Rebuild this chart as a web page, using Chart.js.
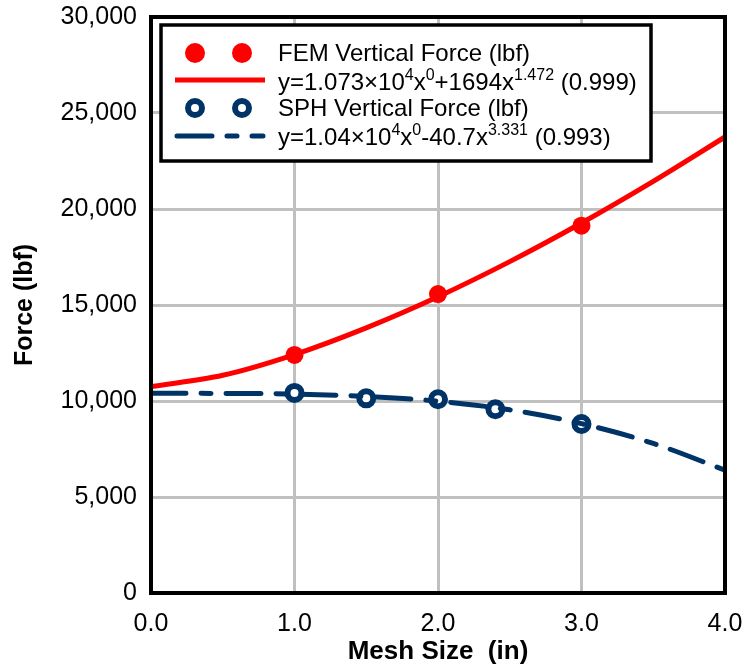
<!DOCTYPE html>
<html>
<head>
<meta charset="utf-8">
<script src="https://cdn.jsdelivr.net/npm/chart.js@4.4.1/dist/chart.umd.min.js"></script>
<style>
  html, body { margin: 0; padding: 0; background: #fff; }
  #wrap { width: 748px; height: 670px; }
</style>
</head>
<body>
<div id="wrap"><canvas id="chart" width="748" height="670"></canvas></div>
<script>
// measured points
const meshFem = [1, 2, 3]
const femForce = [12400, 15570, 19130]
const meshSph = [1, 1.5, 2, 2.4, 3]
const sphForce = [10420, 10140, 10090, 9570, 8800]

// trend lines
const fitMesh = [0, 0.5, 1, 1.5, 2, 2.5, 3, 3.5, 4]
const femFit = [10750, 11340, 12420, 13810, 15430, 17260, 19270, 21440, 23750]
const sphFit = [10400, 10395, 10360, 10240, 9990, 9540, 8820, 7790, 6400]

const xTicks = [0, 1, 2, 3, 4]
const yTicks = [0, 5000, 10000, 15000, 20000, 25000, 30000]

const femLabel = 'FEM Vertical Force (lbf)'
const femFitLabel = [['y=1.073×10', 0], ['4', 1], ['x', 0], ['0', 1], ['+1694x', 0], ['1.472', 1], [' (0.999)', 0]]
const sphLabel = 'SPH Vertical Force (lbf)'
const sphFitLabel = [['y=1.04×10', 0], ['4', 1], ['x', 0], ['0', 1], ['-40.7x', 0], ['3.331', 1], [' (0.993)', 0]]

const RED = '#ff0000'
const NAVY = '#003366'
const FONT = '"Liberation Sans", Arial, sans-serif'
const sphDash = [35, 15, 10, 15]

const toXY = (xs, ys) => xs.map((x, i) => ({ x: x, y: ys[i] }))

// thick black frame round the plot area
const framePlugin = {
    id: 'frame',
    afterDatasetsDraw(chart) {
        const { ctx, chartArea: a } = chart
        ctx.save()
        ctx.strokeStyle = '#000'
        ctx.lineWidth = 4
        ctx.strokeRect(a.left, a.top, a.right - a.left, a.bottom - a.top)
        ctx.restore()
    }
}

const drawParts = (ctx, parts, x, y) => {
    parts.forEach(([txt, sup]) => {
        ctx.font = sup ? `16px ${FONT}` : `24px ${FONT}`
        ctx.fillText(txt, x, sup ? y - 10 : y)
        x += ctx.measureText(txt).width
    })
}

// legend box sits inside the plot, Excel style
const legendPlugin = {
    id: 'boxLegend',
    afterDraw(chart) {
        const ctx = chart.ctx
        ctx.save()
        ctx.fillStyle = '#fff'
        ctx.fillRect(161, 25, 490, 136)
        ctx.strokeStyle = '#000'
        ctx.lineWidth = 3.5
        ctx.strokeRect(161, 25, 490, 136)

        // FEM markers
        ctx.fillStyle = RED
        ;[195, 242].forEach(cx => {
            ctx.beginPath()
            ctx.arc(cx, 53, 10, 0, Math.PI * 2)
            ctx.fill()
        })
        // FEM fit line
        ctx.strokeStyle = RED
        ctx.lineWidth = 5
        ctx.beginPath()
        ctx.moveTo(175, 80)
        ctx.lineTo(265, 80)
        ctx.stroke()
        // SPH markers
        ctx.strokeStyle = NAVY
        ctx.lineWidth = 6
        ctx.fillStyle = '#fff'
        ;[195, 242].forEach(cx => {
            ctx.beginPath()
            ctx.arc(cx, 108, 7, 0, Math.PI * 2)
            ctx.fill()
            ctx.stroke()
        })
        // SPH fit line
        ctx.lineWidth = 5
        ctx.lineCap = 'round'
        ctx.setLineDash(sphDash)
        ctx.beginPath()
        ctx.moveTo(177, 136)
        ctx.lineTo(263, 136)
        ctx.stroke()
        ctx.setLineDash([])

        ctx.fillStyle = '#000'
        ctx.textBaseline = 'alphabetic'
        ctx.textAlign = 'left'
        ctx.font = `24px ${FONT}`
        ctx.fillText(femLabel, 278, 61)
        drawParts(ctx, femFitLabel, 278, 90)
        ctx.font = `24px ${FONT}`
        ctx.fillText(sphLabel, 278, 116)
        drawParts(ctx, sphFitLabel, 278, 145)
        ctx.restore()
    }
}

new Chart(document.getElementById('chart'), {
    type: 'scatter',
    data: {
        datasets: [
            {
                label: femLabel,
                data: toXY(meshFem, femForce),
                pointRadius: 9,
                pointBackgroundColor: RED,
                pointBorderWidth: 0,
                showLine: false,
                order: 2
            },
            {
                label: 'FEM fit',
                data: toXY(fitMesh, femFit),
                showLine: true,
                pointRadius: 0,
                borderColor: RED,
                borderWidth: 5,
                cubicInterpolationMode: 'monotone',
                order: 1
            },
            {
                label: sphLabel,
                data: toXY(meshSph, sphForce),
                pointRadius: 7,
                pointBorderWidth: 6,
                pointBorderColor: NAVY,
                pointBackgroundColor: '#fff',
                showLine: false,
                order: 2
            },
            {
                label: 'SPH fit',
                data: toXY(fitMesh, sphFit),
                showLine: true,
                pointRadius: 0,
                borderColor: NAVY,
                borderWidth: 5,
                borderDash: sphDash,
                borderCapStyle: 'round',
                cubicInterpolationMode: 'monotone',
                order: 1
            }
        ]
    },
    options: {
        responsive: false,
        animation: false,
        devicePixelRatio: 1,
        layout: { padding: { top: 17, right: 23, left: 0, bottom: 0 } },
        plugins: {
            legend: { display: false },
            tooltip: { enabled: false }
        },
        scales: {
            x: {
                type: 'linear',
                min: 0,
                max: 4,
                afterBuildTicks: s => { s.ticks = xTicks.map(v => ({ value: v })) },
                afterFit: s => {
                    s.height = 77
                    s.paddingLeft = 0
                    s.paddingRight = 0
                },
                grid: { color: '#c0c0c0', lineWidth: 3, drawTicks: false },
                border: { display: false },
                ticks: {
                    padding: 16,
                    color: '#000',
                    font: { family: FONT, size: 25 },
                    maxRotation: 0,
                    callback: v => v.toFixed(1)
                },
                title: {
                    display: true,
                    text: 'Mesh Size  (in)',
                    color: '#000',
                    font: { family: FONT, size: 26, weight: 'bold' },
                    padding: { top: 0, bottom: 3 }
                }
            },
            y: {
                min: 0,
                max: 30000,
                afterBuildTicks: s => { s.ticks = yTicks.map(v => ({ value: v })) },
                afterFit: s => {
                    s.width = 151
                    s.paddingTop = 0
                    s.paddingBottom = 0
                },
                grid: { color: '#c0c0c0', lineWidth: 3, drawTicks: false },
                border: { display: false },
                ticks: {
                    padding: 14,
                    color: '#000',
                    font: { family: FONT, size: 25 },
                    callback: v => v.toLocaleString('en-US')
                },
                title: {
                    display: true,
                    text: 'Force (lbf)',
                    color: '#000',
                    font: { family: FONT, size: 25, weight: 'bold' },
                    padding: { top: 10, bottom: 0 }
                }
            }
        }
    },
    plugins: [framePlugin, legendPlugin]
})
</script>
</body>
</html>
